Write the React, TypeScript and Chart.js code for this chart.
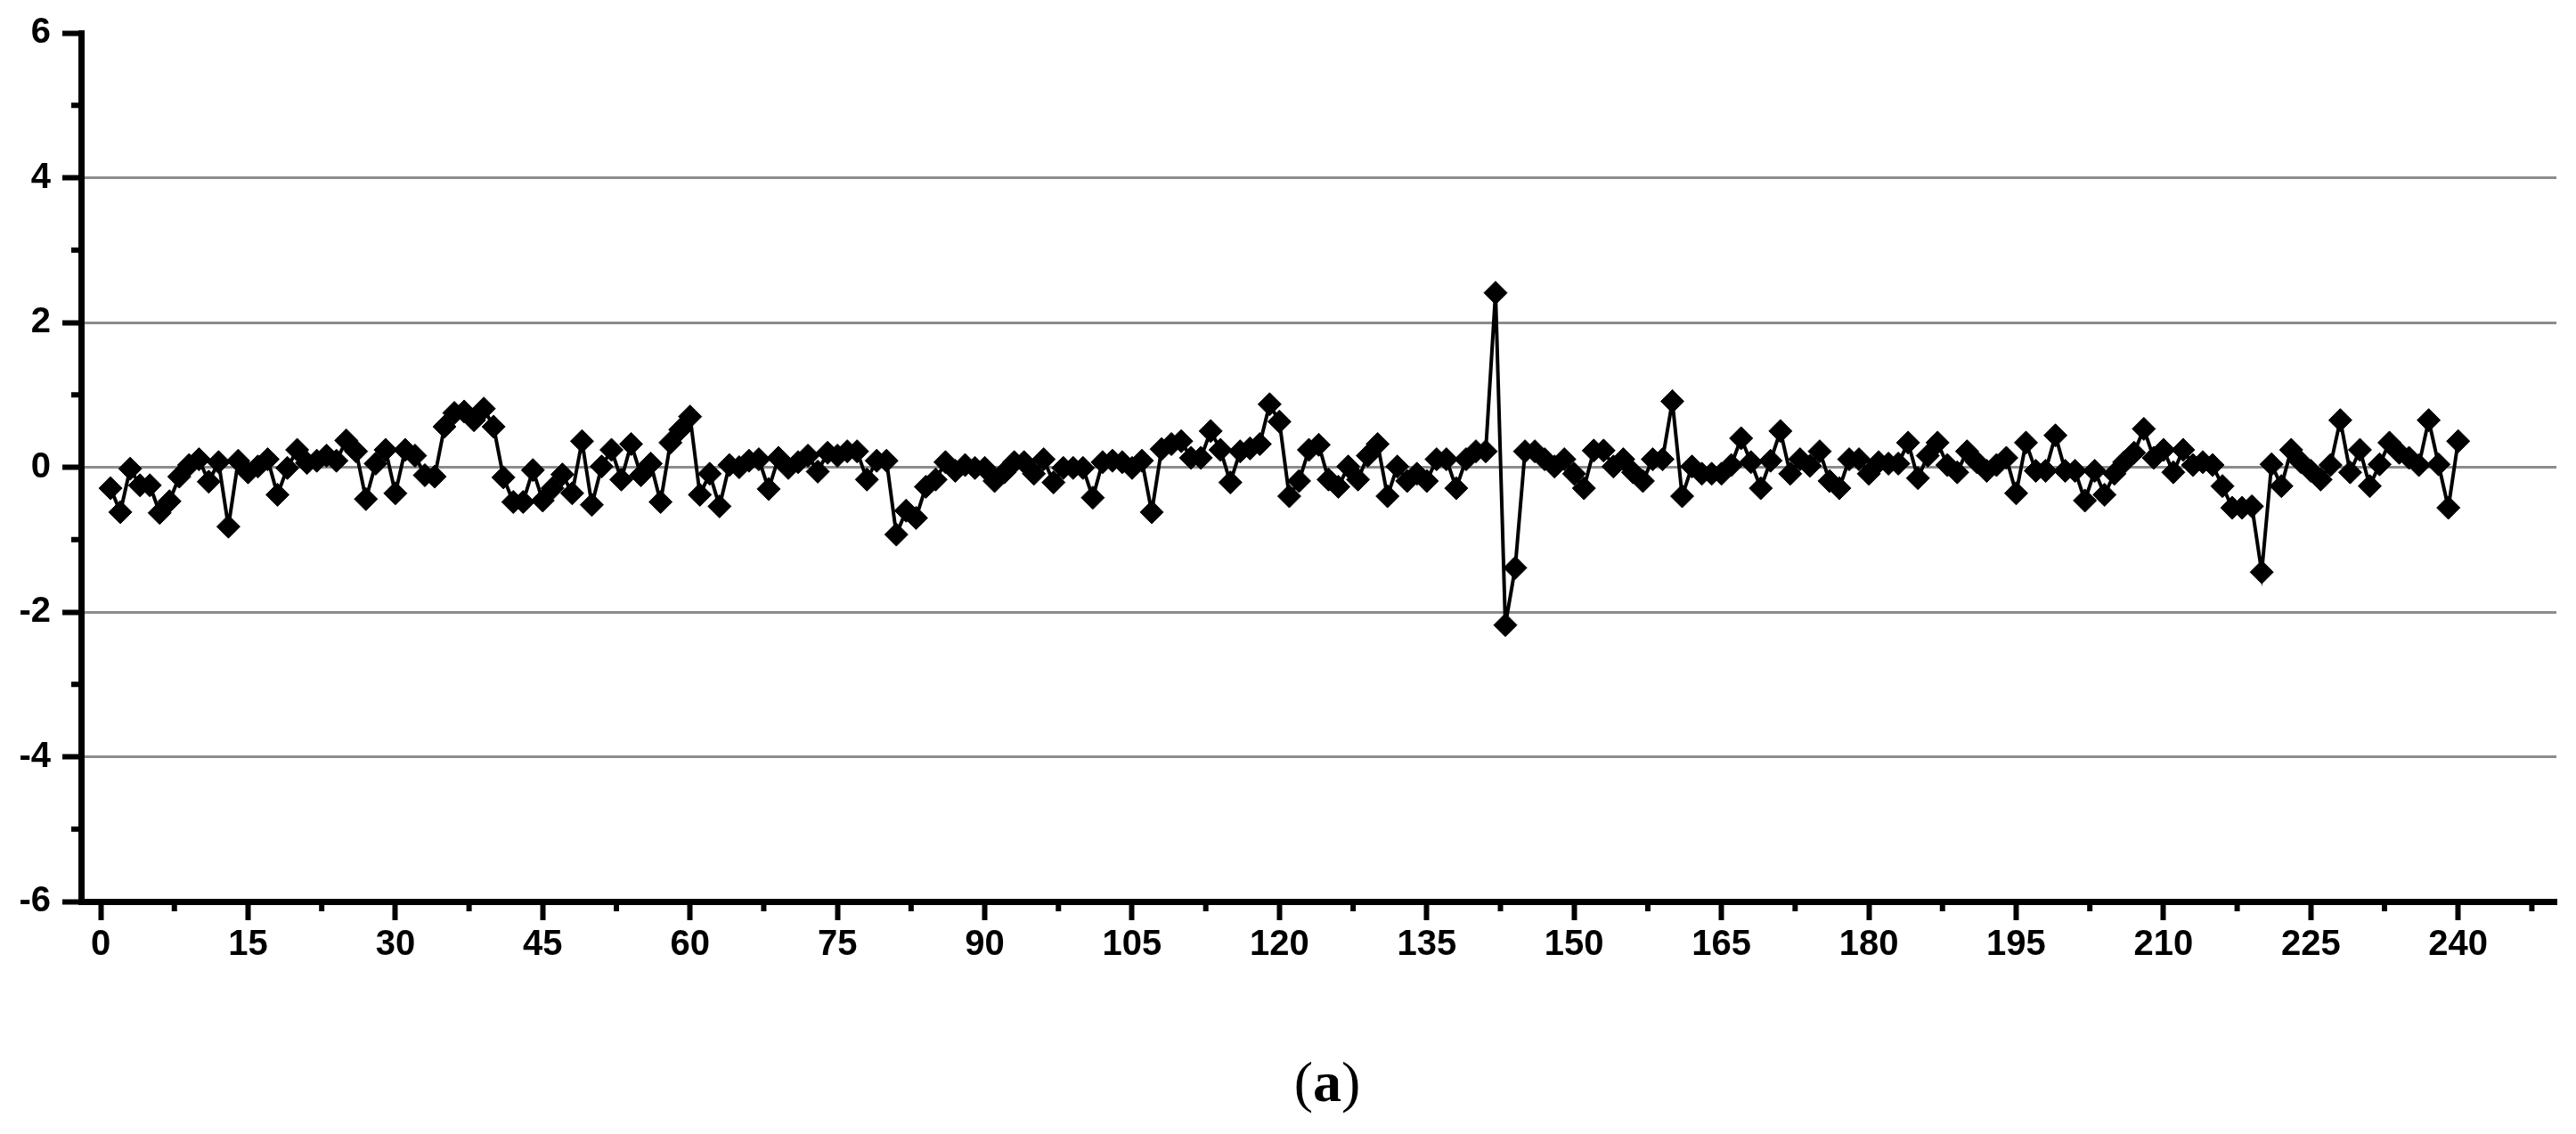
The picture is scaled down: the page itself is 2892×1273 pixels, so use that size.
import React, { useEffect, useRef } from "react";
import { Chart, registerables } from "chart.js";

Chart.register(...registerables);

// ---- data ----
const sampleIndex: number[] = Array.from({ length: 240 }, (_, i) => i + 1);

const seriesValues: number[] = [
  -0.29, -0.62, -0.02, -0.25, -0.25, -0.63, -0.47, -0.13, 0.03, 0.11,
  -0.2, 0.07, -0.82, 0.09, -0.07, 0.01, 0.11, -0.38, -0.01, 0.24,
  0.06, 0.09, 0.16, 0.09, 0.37, 0.22, -0.44, 0.05, 0.24, -0.36,
  0.24, 0.16, -0.11, -0.13, 0.56, 0.75, 0.77, 0.65, 0.81, 0.56,
  -0.14, -0.48, -0.48, -0.04, -0.46, -0.29, -0.1, -0.36, 0.36, -0.52,
  0.01, 0.24, -0.17, 0.32, -0.11, 0.05, -0.48, 0.34, 0.52, 0.7,
  -0.38, -0.09, -0.54, 0.03, 0.0, 0.09, 0.11, -0.3, 0.13, -0.01,
  0.07, 0.16, -0.06, 0.2, 0.16, 0.22, 0.22, -0.17, 0.09, 0.09,
  -0.93, -0.6, -0.7, -0.27, -0.17, 0.07, -0.05, 0.03, -0.01, -0.01,
  -0.19, -0.07, 0.07, 0.07, -0.09, 0.11, -0.21, -0.01, -0.01, -0.01,
  -0.42, 0.07, 0.09, 0.07, -0.01, 0.09, -0.62, 0.25, 0.32, 0.36,
  0.13, 0.13, 0.5, 0.24, -0.21, 0.22, 0.26, 0.32, 0.87, 0.63,
  -0.4, -0.19, 0.24, 0.31, -0.17, -0.27, 0.01, -0.17, 0.16, 0.32,
  -0.4, 0.01, -0.19, -0.09, -0.19, 0.11, 0.11, -0.29, 0.11, 0.22,
  0.22, 2.41, -2.18, -1.39, 0.22, 0.22, 0.11, 0.01, 0.11, -0.09,
  -0.29, 0.23, 0.23, 0.01, 0.11, -0.07, -0.19, 0.11, 0.11, 0.91,
  -0.4, 0.01, -0.09, -0.09, -0.09, 0.03, 0.4, 0.07, -0.29, 0.09,
  0.5, -0.09, 0.11, 0.02, 0.22, -0.19, -0.29, 0.11, 0.11, -0.09,
  0.07, 0.05, 0.05, 0.34, -0.15, 0.16, 0.34, 0.03, -0.07, 0.22,
  0.07, -0.05, 0.03, 0.13, -0.36, 0.34, -0.05, -0.05, 0.44, -0.05,
  -0.05, -0.46, -0.05, -0.38, -0.09, 0.07, 0.2, 0.53, 0.13, 0.24,
  -0.07, 0.24, 0.03, 0.07, 0.03, -0.26, -0.56, -0.56, -0.54, -1.45,
  0.04, -0.26, 0.24, 0.07, -0.05, -0.17, 0.03, 0.65, -0.07, 0.24,
  -0.26, 0.04, 0.34, 0.2, 0.13, 0.03, 0.65, 0.04, -0.56, 0.36,
];

const xTickValues: number[] = [0, 15, 30, 45, 60, 75, 90, 105, 120, 135, 150, 165, 180, 195, 210, 225, 240];
const xMinorTickValues: number[] = [7.5, 22.5, 37.5, 52.5, 67.5, 82.5, 97.5, 112.5, 127.5, 142.5, 157.5, 172.5, 187.5, 202.5, 217.5, 232.5, 247.5];
const yTickValues: number[] = [-6, -4, -2, 0, 2, 4, 6];
const yMinorTickValues: number[] = [-5, -3, -1, 1, 3, 5];

const panelLabel = "a";

const W = 2892;
const H = 1273;

const minorTicksPlugin = {
  id: "minorTicks",
  afterDraw(chart: any) {
    const { ctx, scales, chartArea } = chart;
    ctx.save();
    ctx.strokeStyle = "#000";
    ctx.lineWidth = 6;
    ctx.lineCap = "butt";
    const xs = scales.x;
    for (const v of xMinorTickValues) {
      const px = xs.getPixelForValue(v);
      ctx.beginPath();
      ctx.moveTo(px, chartArea.bottom);
      ctx.lineTo(px, chartArea.bottom + 11);
      ctx.stroke();
    }
    const ys = scales.y;
    for (const v of yMinorTickValues) {
      const py = ys.getPixelForValue(v);
      ctx.beginPath();
      ctx.moveTo(chartArea.left, py);
      ctx.lineTo(chartArea.left - 11, py);
      ctx.stroke();
    }
    ctx.restore();
  },
};

export default function App() {
  const canvasRef = useRef<HTMLCanvasElement | null>(null);

  useEffect(() => {
    if (!canvasRef.current) return;
    document.body.style.overflow = "hidden";
    const chart = new Chart(canvasRef.current, {
      type: "line",
      data: {
        datasets: [
          {
            data: sampleIndex.map((x, i) => ({ x, y: seriesValues[i] })),
            borderColor: "#000",
            borderWidth: 4,
            backgroundColor: "#000",
            pointStyle: "rectRot",
            pointRadius: 13,
            pointBorderWidth: 1,
            pointBackgroundColor: "#000",
            pointBorderColor: "#000",
            tension: 0,
            fill: false,
          },
        ],
      },
      options: {
        animation: false,
        responsive: false,
        devicePixelRatio: 1,
        layout: { padding: { left: 0, right: 22, top: 34, bottom: 0 } },
        plugins: {
          legend: { display: false },
          tooltip: { enabled: false },
          title: { display: false },
        },
        scales: {
          x: {
            type: "linear",
            min: -2,
            max: 250,
            afterBuildTicks: (scale: any) => {
              scale.ticks = xTickValues.map((v) => ({ value: v }));
            },
            afterFit: (scale: any) => {
              scale.height = H - 1012;
            },
            ticks: {
              color: "#000",
              padding: 4,
              maxRotation: 0,
              autoSkip: false,
              font: { family: "'Liberation Sans', Arial, sans-serif", size: 40, weight: "bold" },
            },
            grid: {
              display: true,
              drawOnChartArea: false,
              drawTicks: true,
              tickLength: 21,
              tickColor: "#000",
              tickWidth: 6,
            },
            border: { display: true, color: "#000", width: 7 },
          },
          y: {
            type: "linear",
            min: -6,
            max: 6,
            afterBuildTicks: (scale: any) => {
              scale.ticks = yTickValues.map((v) => ({ value: v }));
            },
            afterFit: (scale: any) => {
              scale.width = 91;
            },
            ticks: {
              color: "#000",
              padding: 13,
              autoSkip: false,
              font: { family: "'Liberation Sans', Arial, sans-serif", size: 40, weight: "bold" },
            },
            grid: {
              display: true,
              drawOnChartArea: true,
              drawTicks: true,
              tickLength: 21,
              tickColor: "#000",
              tickWidth: 6,
              lineWidth: 3,
              color: (ctx: any) => {
                const v = ctx.tick ? ctx.tick.value : 0;
                return v > -6 && v < 6 ? "#8c8c8c" : "rgba(0,0,0,0)";
              },
            },
            border: { display: true, color: "#000", width: 7 },
          },
        },
      },
      plugins: [minorTicksPlugin],
    });
    return () => chart.destroy();
  }, []);

  return (
    <div style={{ position: "absolute", left: 0, top: 0, width: W, height: H, background: "#fff" }}>
      <canvas ref={canvasRef} width={W} height={H} style={{ display: "block", width: W, height: H }} />
      <div
        style={{
          position: "absolute",
          left: 1490,
          top: 1215,
          transform: "translate(-50%, -50%)",
          fontFamily: "'Liberation Serif', 'Times New Roman', serif",
          fontSize: 64,
          color: "#000",
          whiteSpace: "nowrap",
        }}
      >
        (<b>{panelLabel}</b>)
      </div>
    </div>
  );
}
